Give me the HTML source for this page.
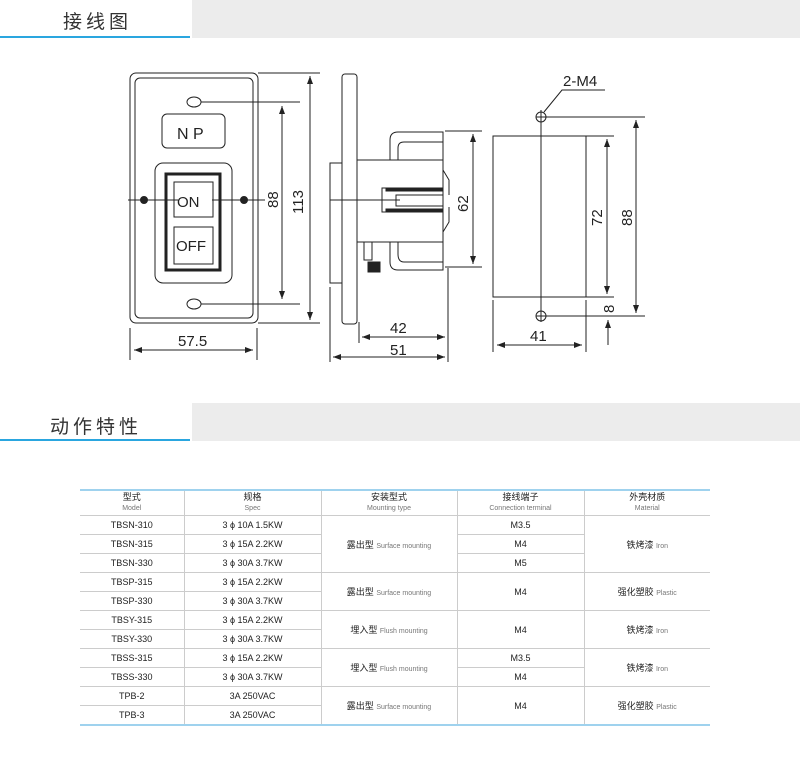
<!DOCTYPE html>
<html><head><meta charset="utf-8"><style>
body{margin:0;width:800px;height:760px;background:#fff;overflow:hidden;font-family:"Liberation Sans","Noto Sans CJK SC",sans-serif;}
.hd{position:absolute;left:0;width:800px;height:38px}
.hd .g{position:absolute;left:192px;top:0;right:0;height:38px;background:#ececec}
.hd .t{position:absolute;left:0;width:190px;top:0;height:36px;border-bottom:2px solid #2aa6df;font-size:19px;color:#333;letter-spacing:4px}
table{position:absolute;left:80px;top:489px;width:630px;border-collapse:collapse;font-size:9px;color:#222;text-align:center}
td,th{border-bottom:1px solid #ccc;border-left:1px solid #ccc;height:18px;padding:0;font-weight:normal}
tr td:first-child,tr th:first-child{border-left:none}
th{height:24px;line-height:10px;font-size:9px}
th small,td small{font-size:7px;color:#777}
table{border-top:2px solid #9fd2ee;border-bottom:2px solid #9fd2ee}
</style></head><body>
<div class="hd" style="top:0"><div class="g"></div><div class="t"><span style="position:absolute;left:63px;top:7px">接线图</span></div></div>
<div class="hd" style="top:403px"><div class="g"></div><div class="t"><span style="position:absolute;left:50px;top:9px">动作特性</span></div></div>
<svg width="800" height="400" style="position:absolute;left:0;top:0" font-family="Liberation Sans, sans-serif" fill="none" stroke="#222" stroke-width="1">
<defs><marker id="a" markerWidth="8" markerHeight="6" refX="8" refY="3" orient="auto-start-reverse"><path d="M0,0L8,3L0,6z" fill="#222" stroke="none"/></marker></defs>
<!-- front -->
<rect x="130" y="73" width="128" height="250" rx="6"/>
<rect x="135" y="78" width="118" height="240" rx="5"/>
<ellipse cx="194" cy="102" rx="7" ry="5"/><ellipse cx="194" cy="304" rx="7" ry="5"/>
<rect x="162" y="114" width="63" height="34" rx="5"/>
<rect x="155" y="163" width="77" height="120" rx="8"/>
<rect x="166" y="174" width="54" height="96" stroke-width="3"/>
<rect x="174" y="182" width="39" height="35"/><rect x="174" y="227" width="39" height="37"/>
<line x1="128" y1="200" x2="178" y2="200"/><line x1="212" y1="200" x2="265" y2="200"/>
<circle cx="144" cy="200" r="3.5" fill="#222"/><circle cx="244" cy="200" r="3.5" fill="#222"/>
<line x1="201" y1="102" x2="300" y2="102"/><line x1="201" y1="304" x2="300" y2="304"/>
<line x1="258" y1="73" x2="320" y2="73"/><line x1="258" y1="323" x2="320" y2="323"/>
<line x1="282" y1="106" x2="282" y2="299" marker-start="url(#a)" marker-end="url(#a)"/>
<line x1="310" y1="76" x2="310" y2="320" marker-start="url(#a)" marker-end="url(#a)"/>
<line x1="130" y1="328" x2="130" y2="360"/><line x1="257" y1="328" x2="257" y2="360"/>
<line x1="134" y1="350" x2="253" y2="350" marker-start="url(#a)" marker-end="url(#a)"/>
<g fill="#222" stroke="none" font-size="15">
<text x="177" y="139" font-size="16">N P</text>
<text x="177" y="207" font-size="15">ON</text><text x="176" y="251" font-size="15">OFF</text>
<text x="178" y="346">57.5</text>
<text transform="translate(278,208) rotate(-90)">88</text>
<text transform="translate(303,214) rotate(-90)">113</text>
</g>
<!-- side -->
<rect x="342" y="74" width="15" height="250" rx="3"/>
<rect x="330" y="163" width="12" height="120"/>
<rect x="357" y="160" width="86" height="82"/>
<path d="M390,160 V140 Q390,132 398,132 H443 V160"/><path d="M398,160 V148 Q398,142 404,142 H443"/>
<path d="M390,242 V262 Q390,270 398,270 H443 V242"/><path d="M398,242 V254 Q398,262 404,262 H443"/>
<rect x="382" y="188" width="61" height="24"/><rect x="386" y="188" width="57" height="3" fill="#222"/><rect x="386" y="209" width="57" height="3" fill="#222"/>
<rect x="396" y="195" width="47" height="11"/>
<path d="M443,170 L449,180 L449,195 M443,232 L449,222 L449,207"/>
<rect x="364" y="242" width="8" height="18"/><rect x="368" y="262" width="12" height="10" fill="#222"/>
<line x1="330" y1="200" x2="400" y2="200"/>
<line x1="445" y1="131" x2="482" y2="131"/><line x1="445" y1="267" x2="482" y2="267"/>
<line x1="473" y1="134" x2="473" y2="264" marker-start="url(#a)" marker-end="url(#a)"/>
<line x1="448" y1="268" x2="448" y2="362"/><line x1="330" y1="287" x2="330" y2="362"/><line x1="359" y1="322" x2="359" y2="343"/>
<line x1="362" y1="337" x2="445" y2="337" marker-start="url(#a)" marker-end="url(#a)"/>
<line x1="333" y1="357" x2="445" y2="357" marker-start="url(#a)" marker-end="url(#a)"/>
<g fill="#222" stroke="none" font-size="15">
<text x="390" y="333">42</text><text x="390" y="355">51</text>
<text transform="translate(468,212) rotate(-90)">62</text>
</g>
<!-- right -->
<rect x="493" y="136" width="93" height="161"/>
<line x1="541" y1="110" x2="541" y2="322"/>
<circle cx="541" cy="117" r="5"/><circle cx="541" cy="316" r="5"/>
<line x1="536" y1="117" x2="546" y2="117"/><line x1="536" y1="316" x2="546" y2="316"/>
<path d="M544,112 L562,90 H605"/>
<line x1="546" y1="117" x2="645" y2="117"/><line x1="546" y1="316" x2="645" y2="316"/>
<line x1="586" y1="136" x2="614" y2="136"/><line x1="586" y1="297" x2="614" y2="297"/>
<line x1="636" y1="120" x2="636" y2="313" marker-start="url(#a)" marker-end="url(#a)"/>
<line x1="607" y1="139" x2="607" y2="294" marker-start="url(#a)" marker-end="url(#a)"/>
<line x1="608" y1="345" x2="608" y2="320" marker-end="url(#a)"/>
<line x1="493" y1="300" x2="493" y2="352"/><line x1="586" y1="300" x2="586" y2="352"/>
<line x1="497" y1="345" x2="582" y2="345" marker-start="url(#a)" marker-end="url(#a)"/>
<g fill="#222" stroke="none" font-size="15">
<text x="563" y="86">2-M4</text><text x="530" y="341">41</text>
<text transform="translate(602,226) rotate(-90)">72</text>
<text transform="translate(632,226) rotate(-90)">88</text>
<text transform="translate(614,313) rotate(-90)">8</text>
</g>
</svg>
<table>
<colgroup><col style="width:104px"><col style="width:137px"><col style="width:136px"><col style="width:127px"><col style="width:126px"></colgroup>
<tr><th>型式<br><small>Model</small></th><th>规格<br><small>Spec</small></th><th>安装型式<br><small>Mounting type</small></th><th>接线端子<br><small>Connection terminal</small></th><th>外壳材质<br><small>Material</small></th></tr>
<tr><td>TBSN-310</td><td>3 ϕ 10A 1.5KW</td><td rowspan="3">露出型 <small>Surface mounting</small></td><td>M3.5</td><td rowspan="3">铁烤漆 <small>Iron</small></td></tr>
<tr><td>TBSN-315</td><td>3 ϕ 15A 2.2KW</td><td>M4</td></tr>
<tr><td>TBSN-330</td><td>3 ϕ 30A 3.7KW</td><td>M5</td></tr>
<tr><td>TBSP-315</td><td>3 ϕ 15A 2.2KW</td><td rowspan="2">露出型 <small>Surface mounting</small></td><td rowspan="2">M4</td><td rowspan="2">强化塑胶 <small>Plastic</small></td></tr>
<tr><td>TBSP-330</td><td>3 ϕ 30A 3.7KW</td></tr>
<tr><td>TBSY-315</td><td>3 ϕ 15A 2.2KW</td><td rowspan="2">埋入型 <small>Flush mounting</small></td><td rowspan="2">M4</td><td rowspan="2">铁烤漆 <small>Iron</small></td></tr>
<tr><td>TBSY-330</td><td>3 ϕ 30A 3.7KW</td></tr>
<tr><td>TBSS-315</td><td>3 ϕ 15A 2.2KW</td><td rowspan="2">埋入型 <small>Flush mounting</small></td><td>M3.5</td><td rowspan="2">铁烤漆 <small>Iron</small></td></tr>
<tr><td>TBSS-330</td><td>3 ϕ 30A 3.7KW</td><td>M4</td></tr>
<tr><td>TPB-2</td><td>3A 250VAC</td><td rowspan="2">露出型 <small>Surface mounting</small></td><td rowspan="2">M4</td><td rowspan="2">强化塑胶 <small>Plastic</small></td></tr>
<tr><td>TPB-3</td><td>3A 250VAC</td></tr>
</table>
</body></html>
